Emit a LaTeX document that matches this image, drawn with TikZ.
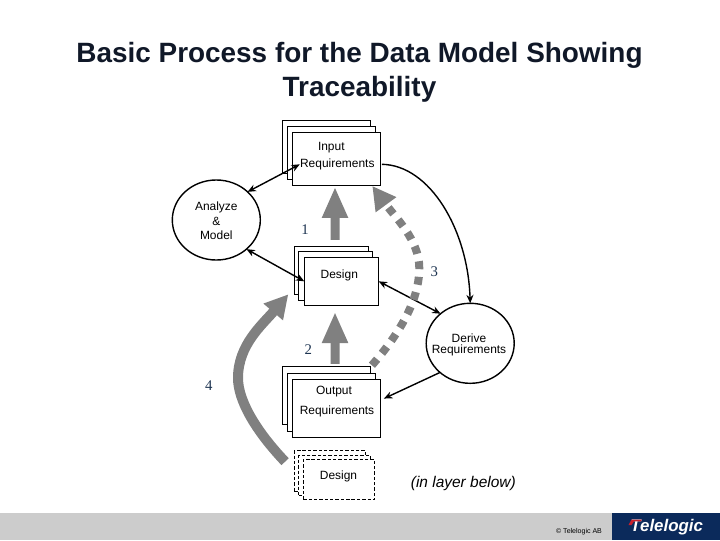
\documentclass[tikz,border=0pt]{standalone}
\usepackage{fontspec}
\setmainfont{Liberation Sans}
\newfontfamily\numfont{Liberation Serif}
\usepackage{xcolor}
\usetikzlibrary{
  arrows.meta,
  positioning,
  shapes.geometric,
}
\definecolor{arrowgrey}{HTML}{808080}
\definecolor{bandgrey}{HTML}{CCCCCC}
\definecolor{logonavy}{HTML}{0B2A5B}
\definecolor{numnavy}{HTML}{1C3350}
\definecolor{logored}{HTML}{C8202C}
\definecolor{titleink}{HTML}{101828}

\begin{document}
\begin{tikzpicture}[
  x=0.025cm, y=-0.025cm,
  every node/.style={font=\fontsize{8.5}{10.3}\selectfont},
  sheet/.style={
    rectangle, draw, fill=white, line width=0.7pt, outer sep=0pt,
    inner sep=0pt,
  },
  inputsheet/.style={sheet, minimum width=2.21cm, minimum height=1.325cm},
  designsheet/.style={sheet, minimum width=1.86cm, minimum height=1.21cm},
  outputsheet/.style={sheet, minimum width=2.22cm, minimum height=1.45cm},
  layersheet/.style={
    sheet, dash pattern=on 2.4pt off 1.4pt,
    minimum width=1.78cm, minimum height=1cm,
  },
  activity/.style={
    ellipse, draw, fill=white, line width=1pt, outer sep=0pt, inner sep=0pt,
    minimum width=2.2cm, minimum height=2cm, align=center,
  },
  boxtext/.style={inner sep=0pt, align=center},
  stepnum/.style={inner sep=0pt, text=numnavy, font=\numfont\fontsize{10.5}{12}\selectfont},
  link/.style={{Stealth[length=6pt,width=5pt]}-{Stealth[length=6pt,width=5pt]}, line width=1pt},
  flow/.style={-{Stealth[length=6pt,width=5pt]}, line width=1pt},
  bigarrow/.style={-{Triangle[length=0.78cm,width=0.6cm]}, arrowgrey, line width=0.225cm},
  curvearrow/.style={-{Triangle[length=0.58cm,width=0.6cm]}, arrowgrey},
]
  \useasboundingbox (0,0) rectangle (720,540);

  % Footer band
  \fill[bandgrey] (0,513) rectangle (612,540);
  \fill[logonavy] (612,513) rectangle (720,540);
  \node[inner sep=0pt, font=\fontsize{5}{6}\selectfont] (owner) at (579,532) {© Telelogic AB};
  \node[inner sep=0pt, text=white, font=\fontsize{12}{14}\bfseries\itshape] (logo) at (666.7,527) {Telelogic};
  \fill[logored] (628.5,525) -- (631.5,519.5) -- (642,519.5) -- (641,521.3) -- (634,521.3) -- (631.5,525) -- cycle;

  % Title
  \node[inner sep=0pt, align=center, text=titleink, font=\fontsize{19.85}{24}\bfseries] (title) at (359.5,72)
    {Basic Process for the Data Model Showing\\Traceability};

  % Input requirements stack
  \node[inputsheet] (inback) at (326.5,146.8) {};
  \node[inputsheet] (inmid) at ([shift={(5,6)}]inback) {};
  \node[inputsheet] (infront) at ([shift={(5,6)}]inmid) {};
  \node[boxtext] (intitle) at ([shift={(-5.2,-11.5)}]infront) {Input};
  \node[boxtext] (inreq) at ([shift={(0.8,5.5)}]infront) {Requirements};

  % Design stack
  \node[designsheet, below=1.82cm of inback, xshift=0.125cm] (desback) {};
  \node[designsheet] (desmid) at ([shift={(4,5.7)}]desback) {};
  \node[designsheet] (desfront) at ([shift={(6,5.3)}]desmid) {};
  \node[boxtext] (destitle) at ([shift={(-2.2,-6)}]desfront) {Design};

  % Output requirements stack
  \node[outputsheet, below=1.8cm of desback, xshift=-0.125cm] (outback) {};
  \node[outputsheet] (outmid) at ([shift={(5,7)}]outback) {};
  \node[outputsheet] (outfront) at ([shift={(5,6)}]outmid) {};
  \node[boxtext] (outtitle) at ([shift={(-2.5,-17.5)}]outfront) {Output};
  \node[boxtext] (outreq) at ([shift={(0.5,2.5)}]outfront) {Requirements};

  % Design in the layer below
  \node[layersheet, below=0.66cm of outback, xshift=0.0875cm] (layback) {};
  \node[layersheet] (laymid) at ([shift={(4.5,4.3)}]layback) {};
  \node[layersheet] (layfront) at ([shift={(4.5,4.3)}]laymid) {};
  \node[boxtext] (laytitle) at ([shift={(-0.5,-3.2)}]layfront) {Design};
  \node[boxtext, right=0.9cm of layfront, yshift=-0.1cm, font=\fontsize{11}{13}\itshape] (laynote) {(in layer below)};

  % Activities
  \node[activity] (analyze) at (216.3,220) {};
  \node[boxtext] (analyzetext) at (216.3,221) {Analyze\\\&\\Model};
  \node[activity] (derive) at (470.2,343.3) {};
  \node[boxtext, font=\fontsize{8.5}{8.3}\selectfont] (derivetext) at (469,345) {Derive\\Requirements};

  % Numbers
  \node[stepnum] (one) at (305,230) {1};
  \node[stepnum] (two) at (308.3,349.3) {2};
  \node[stepnum] (three) at (434.3,271.7) {3};
  \node[stepnum] (four) at (208.7,385.7) {4};

  % Arrows: activities
  \draw[link] (inreq.west) -- (analyze.42);
  \draw[link] (analyze.-44) -- (desfront.west);
  \draw[link] (desfront.east) -- (derive.135);
  \draw[flow] (derive.224) -- ([shift={(3,-10)}]outfront.east);
  \coordinate (reqend) at ([shift={(7,0)}]inreq.east);
  \draw[flow] (reqend) .. controls (430,165) and (468,230) .. (derive.north);

  % Arrows: traceability
  \draw[bigarrow] ([shift={(3.5,-6.3)}]desback.north) -- ([shift={(-1.5,1.4)}]infront.south);
  \draw[bigarrow] ([shift={(8.5,-2.6)}]outback.north) -- ([shift={(-6.5,6.3)}]desfront.south);
  \coordinate (bulge) at (419.3,268);
  \draw[curvearrow, line width=0.2cm, dash pattern=on 0.2cm off 0.19cm]
    ([shift={(1,-1.3)}]outback.north east) .. controls (400,333) and (419.3,300) .. (bulge)
    .. controls (419.3,240) and (395,217) .. ([shift={(-8.4,0.7)}]infront.south east);
  \coordinate (sweep) at (238,378);
  \draw[curvearrow, line width=0.25cm]
    ([shift={(-9.3,-9.3)}]layback.west) .. controls (255,430) and (238,400) .. (sweep)
    .. controls (238,345) and (262,325) .. ([shift={(-6,24)}]desback.west);

\end{tikzpicture}
\end{document}
